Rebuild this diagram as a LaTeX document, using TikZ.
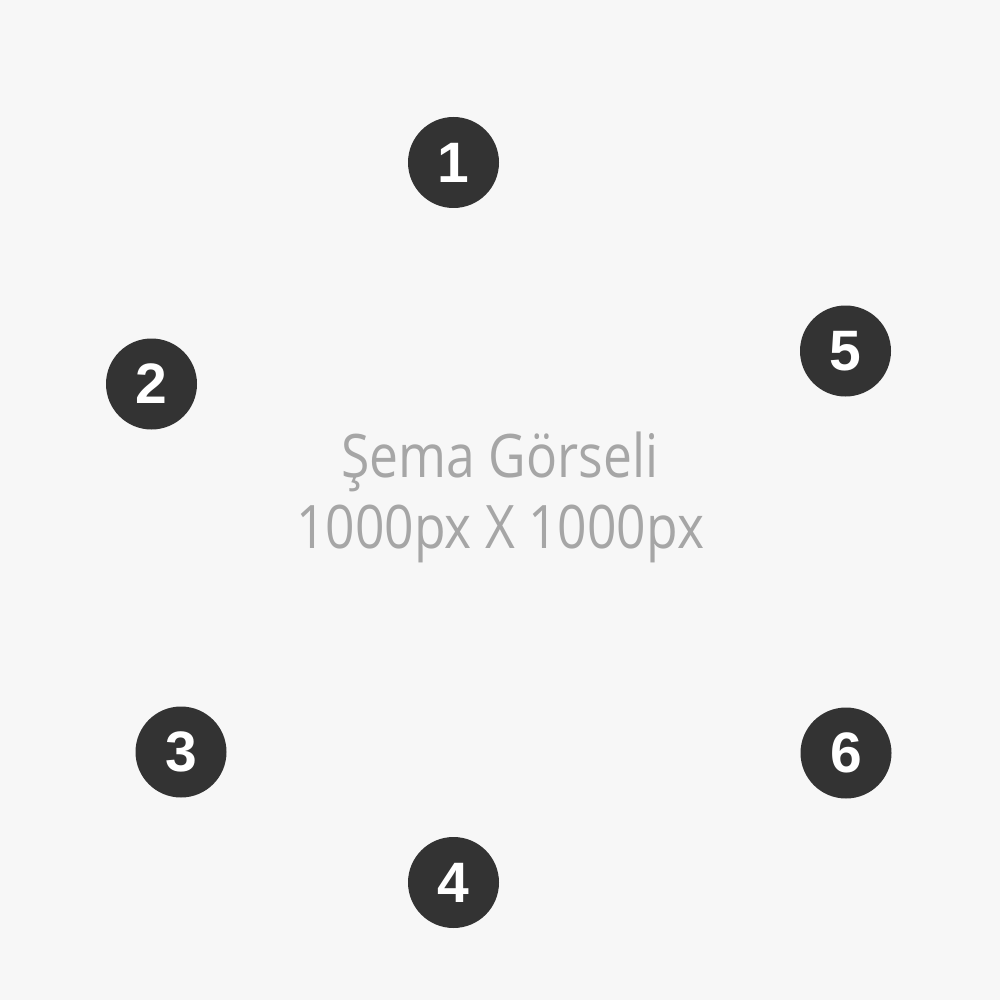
\documentclass[tikz,border=0pt]{standalone}
\usepackage{fontspec}
\setmainfont{Open Sans}
\newfontfamily\numfont{Liberation Sans}
\definecolor{bgc}{HTML}{F7F7F7}
\definecolor{dotc}{HTML}{333333}
\definecolor{txtc}{HTML}{A6A6A6}
\begin{document}
\begin{tikzpicture}[x=1pt,y=-1pt,
  numdot/.style={circle,fill=dotc,minimum size=91pt,inner sep=0pt,text=white,
    font=\numfont\bfseries\fontsize{57}{57}\selectfont},
  label/.style={text=txtc,inner sep=0pt,font=\fontsize{60}{60}\selectfont}]
\fill[bgc] (0,0) rectangle (1000,1000);
\useasboundingbox (0,0) rectangle (1000,1000);
\node[numdot] (n1) at (453.5,162.5) {1};
\node[numdot] (n2) at (151.5,384) {2};
\node[numdot] (n3) at (181,752) {3};
\node[numdot] (n4) at (453.5,882.5) {4};
\node[numdot] (n5) at (845.5,351) {5};
\node[numdot] (n6) at (846,753) {6};
\node[label,anchor=base] (t1) at (500,477) {\scalebox{0.86}[1]{Şema Görseli}};
\node[label,anchor=base] (t2) at (500,548) {\scalebox{0.86}[1]{1000px X 1000px}};
\end{tikzpicture}
\end{document}
